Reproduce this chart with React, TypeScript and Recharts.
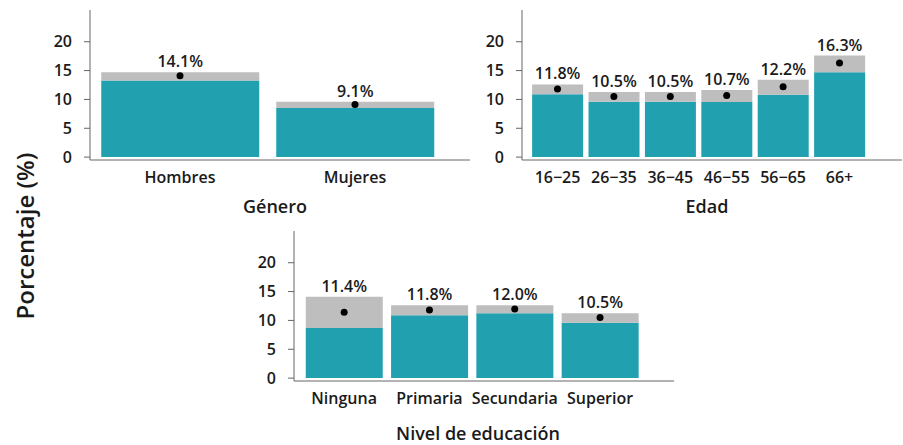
import { Bar, ComposedChart, LabelList, Line, XAxis, YAxis } from 'recharts';

const generoCats = ['Hombres', 'Mujeres'];
const generoEst = [14.1, 9.1];
const generoLow = [13.3, 8.5];
const generoHigh = [14.7, 9.6];

const edadCats = ['16−25', '26−35', '36−45', '46−55', '56−65', '66+'];
const edadEst = [11.8, 10.5, 10.5, 10.7, 12.2, 16.3];
const edadLow = [10.9, 9.6, 9.6, 9.55, 10.8, 14.7];
const edadHigh = [12.6, 11.3, 11.3, 11.65, 13.4, 17.6];

const eduCats = ['Ninguna', 'Primaria', 'Secundaria', 'Superior'];
const eduEst = [11.4, 11.8, 12.0, 10.5];
const eduLow = [8.7, 10.9, 11.25, 9.6];
const eduHigh = [14.1, 12.65, 12.65, 11.25];

const yTicks = [0, 5, 10, 15, 20];

const FONT = '"Open Sans", "Noto Sans", sans-serif';
const TEAL = '#21a0b0';
const GREY = '#bebebe';
const AXIS = '#666';
const TEXT = '#1a1a1a';

interface PanelProps {
  cats: string[];
  est: number[];
  low: number[];
  high: number[];
  title: string;
  left: number;
  top: number;
  axisWidth: number;
  padLeft: number;
  padRight: number;
  titleOffset: number;
  titleDx: number;
}

function Panel({ cats, est, low, high, title, left, top, axisWidth, padLeft, padRight, titleOffset, titleDx }: PanelProps) {
  const data = cats.map((name, i) => ({
    name,
    low: low[i],
    band: high[i] - low[i],
    est: est[i],
    label: `${est[i].toFixed(1)}%`,
  }));

  return (
    <div style={{ position: 'absolute', left, top }}>
      <ComposedChart
        width={axisWidth + 380}
        height={224}
        data={data}
        margin={{ top: 10, right: 0, bottom: 0, left: 0 }}
        barCategoryGap="5%"
      >
        <XAxis
          dataKey="name"
          height={64}
          padding={{ left: padLeft, right: padRight }}
          axisLine={{ stroke: AXIS }}
          tickLine={false}
          tickMargin={6}
          tick={{ fontSize: 16, fill: TEXT, fontFamily: FONT, fontWeight: 600 }}
          label={{
            value: title,
            position: 'insideBottom',
            offset: titleOffset,
            dx: titleDx,
            style: { fontSize: 18, fill: TEXT, fontFamily: FONT, fontWeight: 600 },
          }}
        />
        <YAxis
          width={axisWidth}
          domain={[-0.5, 25.5]}
          ticks={yTicks}
          allowDataOverflow
          axisLine={{ stroke: AXIS }}
          tickLine={{ stroke: AXIS }}
          tickSize={6}
          tickMargin={12}
          tick={{ fontSize: 16, fill: TEXT, fontFamily: FONT, fontWeight: 600 }}
        />
        <Bar dataKey="low" stackId="a" fill={TEAL} isAnimationActive={false} />
        <Bar dataKey="band" stackId="a" fill={GREY} isAnimationActive={false}>
          <LabelList
            dataKey="label"
            position="top"
            offset={5}
            style={{ fontSize: 16, fill: TEXT, fontFamily: FONT, fontWeight: 600 }}
          />
        </Bar>
        <Line
          dataKey="est"
          stroke="none"
          dot={{ r: 3.5, fill: '#000', stroke: 'none' }}
          activeDot={false}
          isAnimationActive={false}
        />
      </ComposedChart>
    </div>
  );
}

export default function App() {
  return (
    <div
      style={{
        position: 'absolute',
        left: 0,
        top: 0,
        width: 903,
        height: 445,
        background: '#fff',
        fontFamily: FONT,
        overflow: 'hidden',
      }}
    >
      <Panel
        cats={generoCats}
        est={generoEst}
        low={generoLow}
        high={generoHigh}
        title="Género"
        left={0}
        top={0}
        axisWidth={90}
        padLeft={2.5}
        padRight={27.5}
        titleOffset={11}
        titleDx={-5}
      />
      <Panel
        cats={edadCats}
        est={edadEst}
        low={edadLow}
        high={edadHigh}
        title="Edad"
        left={460}
        top={0}
        axisWidth={62}
        padLeft={7.3}
        padRight={34.3}
        titleOffset={11}
        titleDx={-5}
      />
      <Panel
        cats={eduCats}
        est={eduEst}
        low={eduLow}
        high={eduHigh}
        title="Nivel de educación"
        left={230}
        top={221}
        axisWidth={64}
        padLeft={7.5}
        padRight={31.3}
        titleOffset={5}
        titleDx={-6}
      />
      <svg width={50} height={445} style={{ position: 'absolute', left: 0, top: 0 }}>
        <text
          x={0}
          y={0}
          transform="translate(34, 236) rotate(-90)"
          textAnchor="middle"
          fontSize={24}
          fontWeight={600}
          fontFamily={FONT}
          fill={TEXT}
        >
          Porcentaje (%)
        </text>
      </svg>
    </div>
  );
}
